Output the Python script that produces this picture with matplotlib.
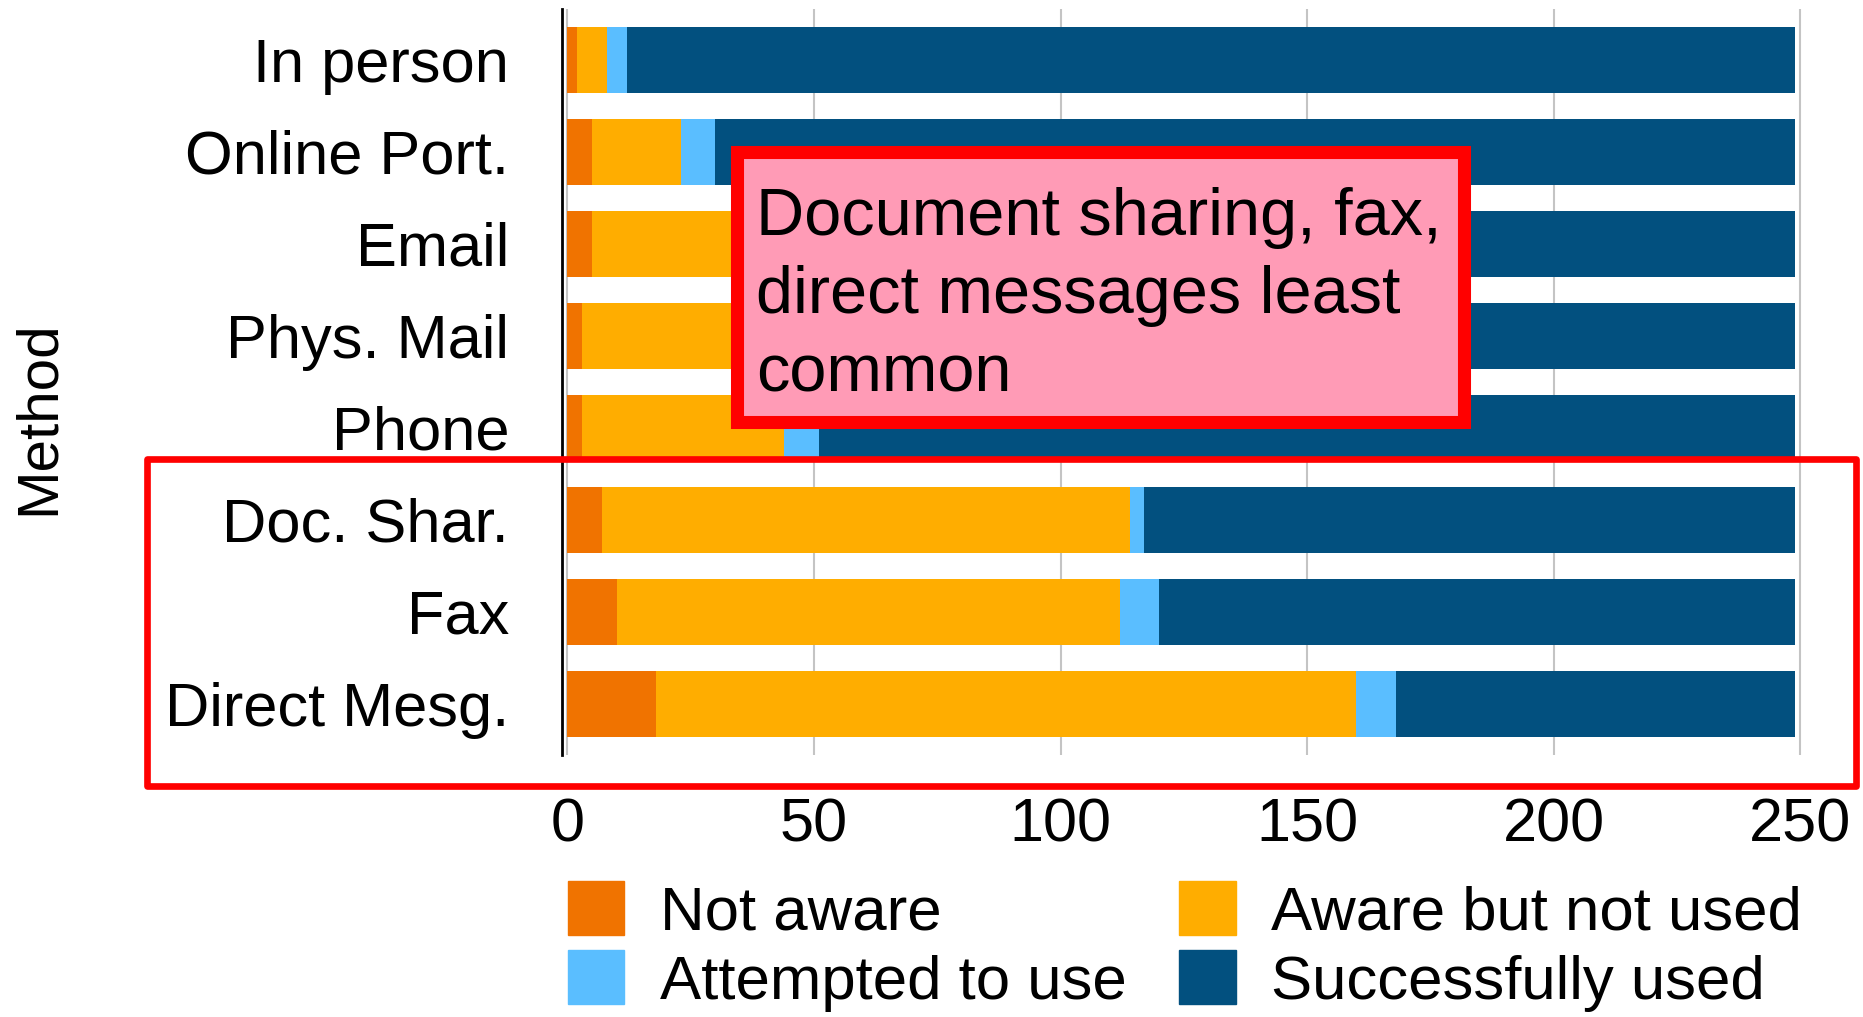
import matplotlib
matplotlib.use("Agg")
import matplotlib.pyplot as plt
from matplotlib.patches import Patch, Rectangle

plt.rcParams['font.family'] = ['Liberation Sans', 'DejaVu Sans']

methods = ["In person", "Online Port.", "Email", "Phys. Mail", "Phone",
           "Doc. Shar.", "Fax", "Direct Mesg."]
not_aware = [2, 5, 5, 3, 3, 7, 10, 18]
aware_not_used = [6, 18, 38, 42, 41, 107, 102, 142]
attempted = [4, 7, 6, 6, 7, 3, 8, 8]
success = [237, 219, 200, 198, 198, 132, 129, 81]

series = [
    ("Not aware", not_aware, "#F07300"),
    ("Aware but not used", aware_not_used, "#FFAD00"),
    ("Attempted to use", attempted, "#5ABEFF"),
    ("Successfully used", success, "#02507F"),
]

W, H = 1863, 1017
fig = plt.figure(figsize=(W / 100, H / 100), dpi=100)
ax = fig.add_axes([562 / W, 1 - 754.6 / H, 1248 / W, 745.5 / H])

ypos = list(range(len(methods)))
left = [0] * len(methods)
for name, vals, col in series:
    ax.barh(ypos, vals, left=left, height=0.72, color=col, label=name)
    left = [a + b for a, b in zip(left, vals)]

ax.set_xlim(-1.1, 252)
ax.set_ylim(7.55, -0.55)
ax.set_xticks([0, 50, 100, 150, 200, 250])
ax.set_yticks(ypos)
ax.set_yticklabels(methods)
ax.tick_params(axis='x', length=0, pad=31, labelsize=44)
ax.tick_params(axis='y', length=0, pad=38, labelsize=44.2)
ax.xaxis.grid(True, color="#C4C4C4", lw=1.5)
ax.set_axisbelow(True)
for s in ["top", "right", "bottom"]:
    ax.spines[s].set_visible(False)
ax.spines["left"].set_linewidth(2)

fig.text(38.6 / W, 1 - 418 / H, "Method", rotation=90, fontsize=42,
         ha="center", va="center")

# legend, column-major: col1 = not aware / attempted, col2 = aware / success
order = ["Not aware", "Attempted to use", "Aware but not used", "Successfully used"]
colours = {n: c for n, _, c in series}
handles = [Patch(color=colours[n]) for n in order]
fig.legend(handles, order, ncol=2, loc="upper left",
           bbox_to_anchor=(568 / W, 1 - 881 / H), frameon=False,
           fontsize=44.5, borderpad=0, borderaxespad=0, handlelength=0.91,
           handleheight=0.97, handletextpad=0.58, columnspacing=0.85,
           labelspacing=0.13)

# red box around the three least common methods
fig.add_artist(Rectangle((146.5 / W, 1 - 786 / H), (1856 - 146.5) / W, (786 - 459) / H,
                         transform=fig.transFigure, fill=False, edgecolor="#FF0000",
                         lw=4.8, joinstyle="round", zorder=5))

# annotation box
fig.add_artist(Rectangle((737 / W, 1 - 422.3 / H), (1463.5 - 737) / W, (422.3 - 152) / H,
                         transform=fig.transFigure, facecolor="#FF9BB6",
                         edgecolor="#FF0000", lw=9.4, zorder=6))
fig.text(756 / W, 1 - 391.7 / H,
         "Document sharing, fax,\ndirect messages least\ncommon",
         fontsize=48, ha="left", va="baseline", linespacing=1.345, zorder=7)

fig.savefig("out.png", dpi=100)
